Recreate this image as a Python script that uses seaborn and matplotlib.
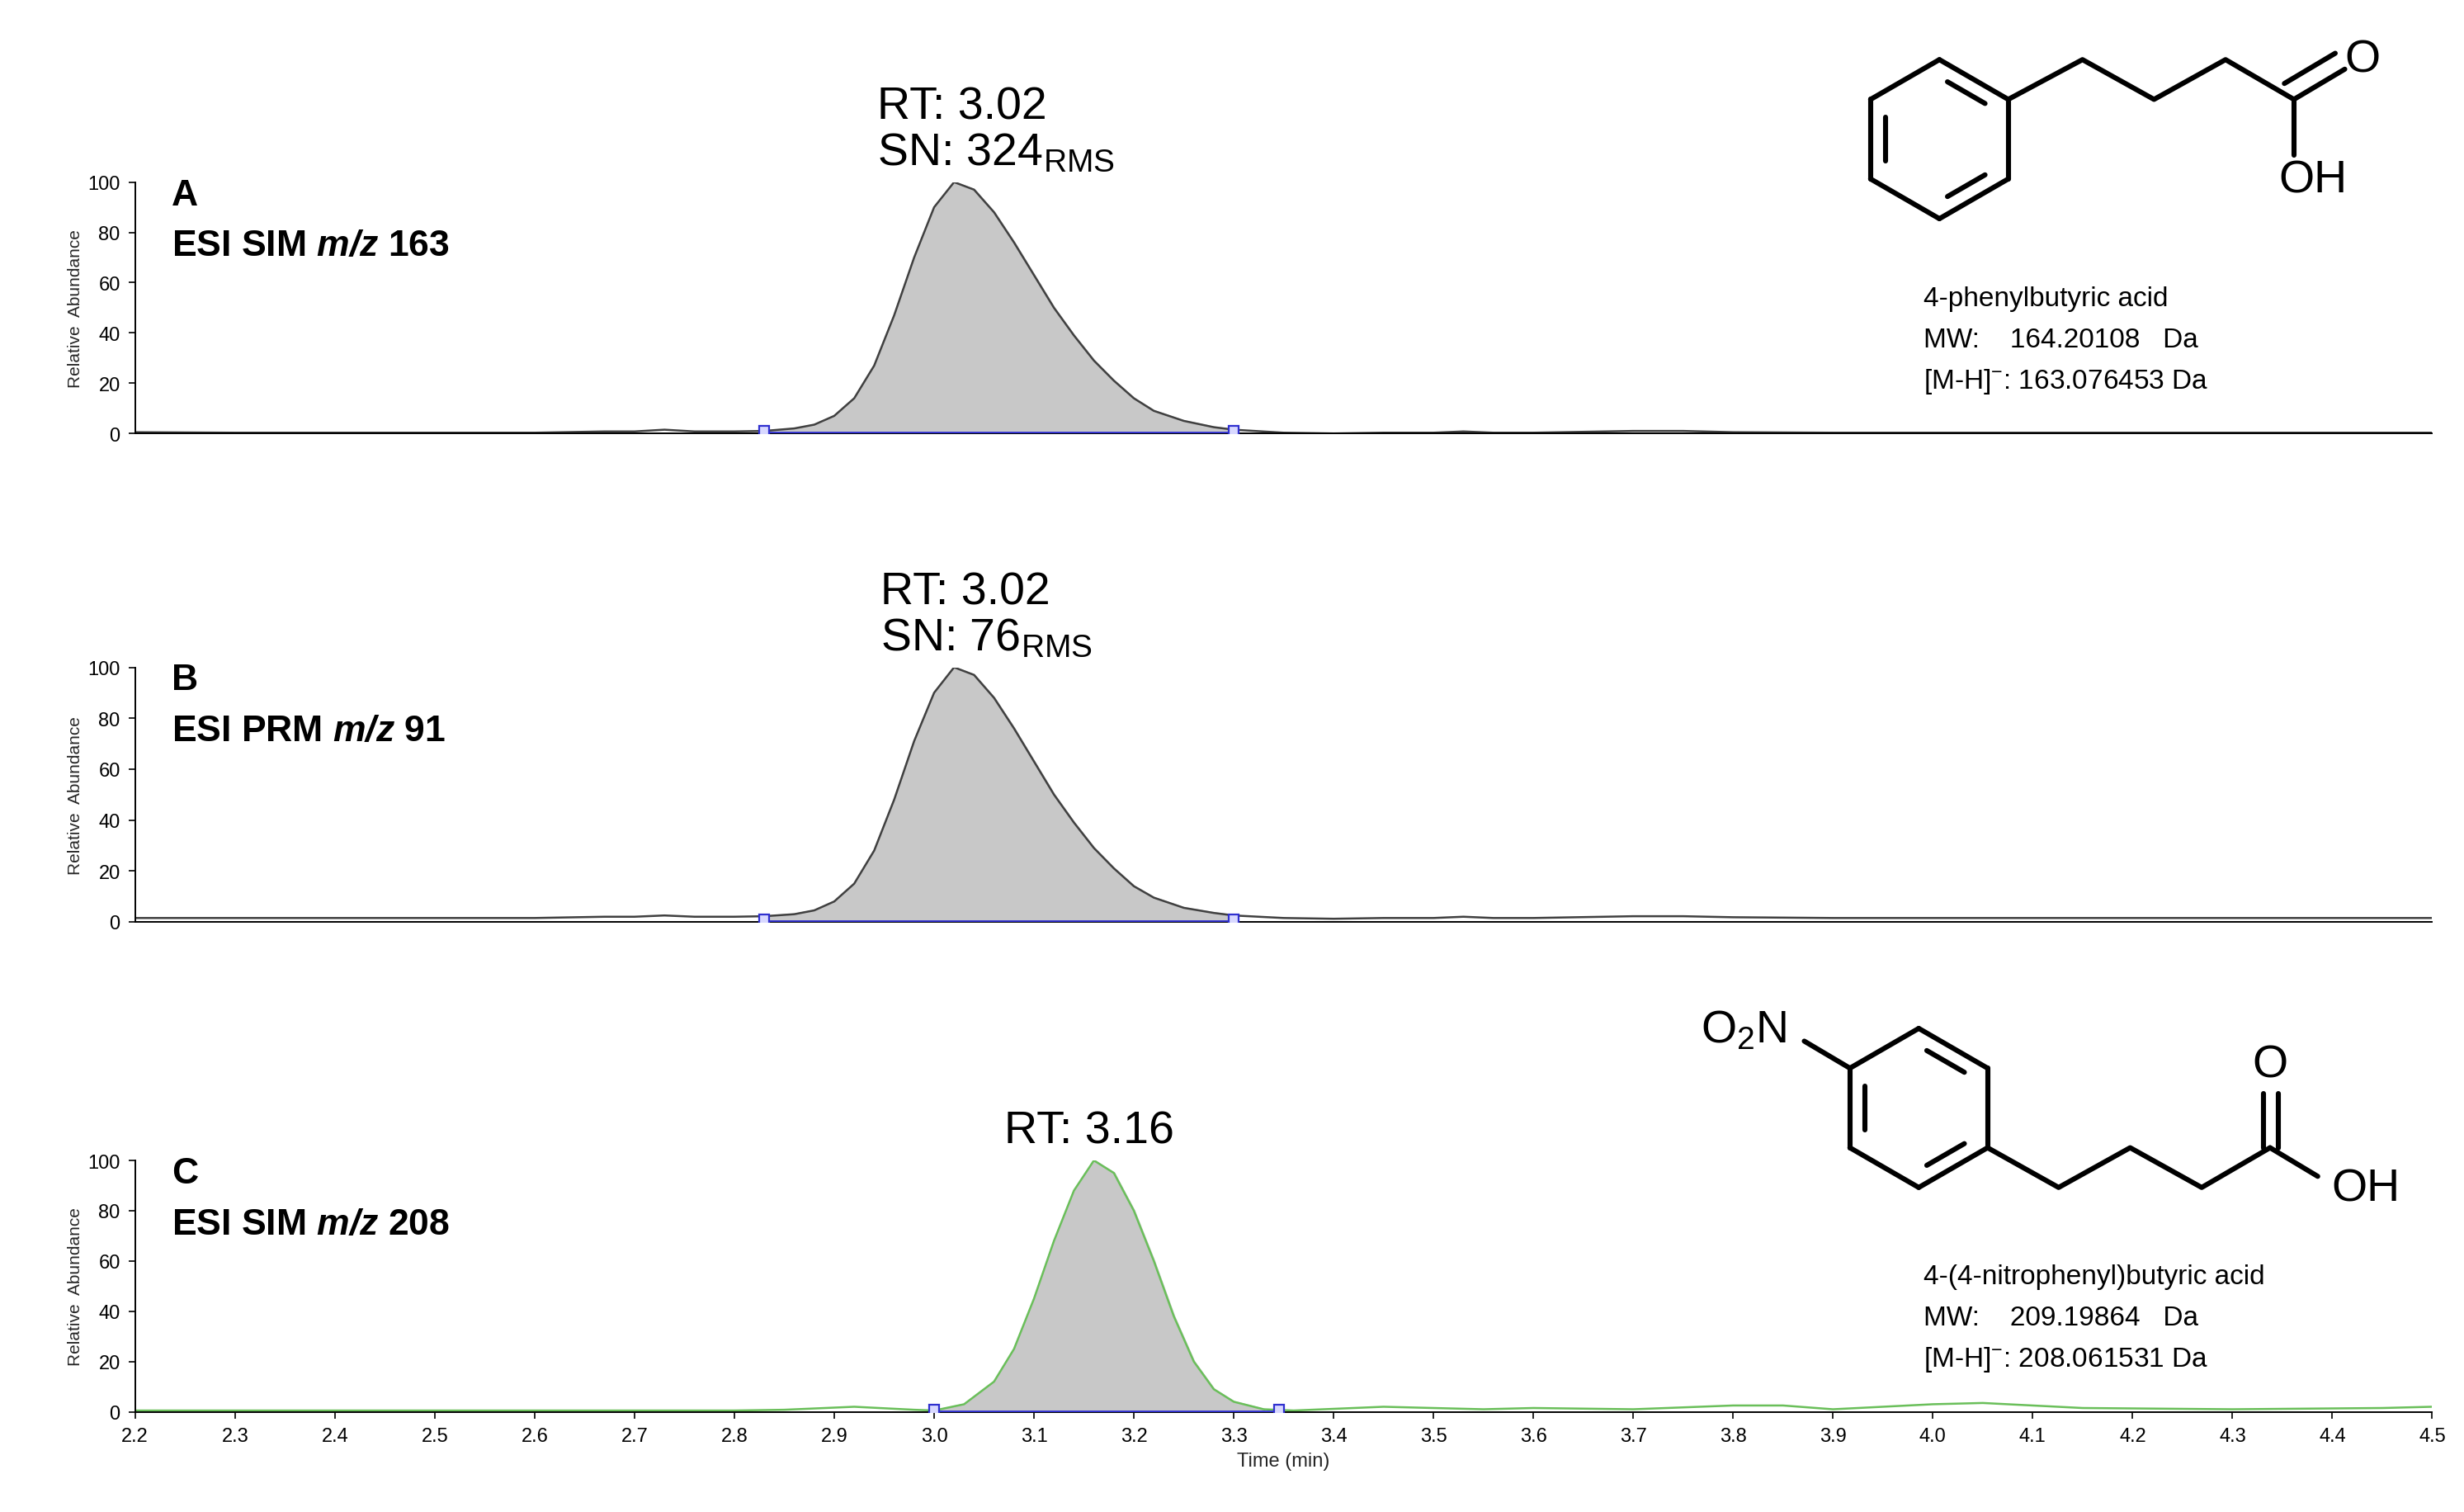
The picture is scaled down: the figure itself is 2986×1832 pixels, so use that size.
import numpy as np
import pandas as pd
import matplotlib
matplotlib.use("Agg")
import matplotlib.pyplot as plt
import seaborn as sns

sns.set_style("ticks")
plt.rcParams['font.family'] = ['Liberation Sans', 'DejaVu Sans']
plt.rcParams['text.color'] = 'black'
plt.rcParams['mathtext.fontset'] = 'custom'
plt.rcParams['mathtext.rm'] = 'Liberation Sans'
plt.rcParams['mathtext.it'] = 'Liberation Sans:italic'
plt.rcParams['mathtext.bf'] = 'Liberation Sans:bold'
try:
    plt.rcParams['mathtext.bfit'] = 'Liberation Sans:italic:bold'
    MZ = r"$\mathbfit{m/z}$"
except Exception:
    MZ = r"$\mathit{m/z}$"

# ---------------- data ----------------
times_A = [2.20,2.30,2.40,2.50,2.60,2.67,2.70,2.73,2.76,2.80,2.83,2.86,2.88,2.90,2.92,2.94,2.96,2.98,3.00,3.02,
           3.04,3.06,3.08,3.10,3.12,3.14,3.16,3.18,3.20,3.22,3.25,3.28,3.30,3.35,3.40,3.45,3.50,3.53,3.56,3.60,
           3.70,3.75,3.80,3.90,4.00,4.20,4.50]
int_A = [0.5,0.3,0.3,0.3,0.3,0.8,0.8,1.5,0.8,0.8,1.0,2.0,3.5,7,14,27,47,70,90,100,
         97,88,76,63,50,39,29,21,14,9,5,2.5,1.5,0.3,0.0,0.3,0.3,0.8,0.3,0.3,
         1.0,1.0,0.5,0.3,0.3,0.3,0.3]
times_B = times_A
int_B = [1.5,1.5,1.5,1.5,1.5,2.0,2.0,2.5,2.0,2.0,2.2,3.0,4.5,8,15,28,48,71,90,100,
         97,88,76,63,50,39,29,21,14,9.5,5.5,3.5,2.5,1.5,1.2,1.5,1.5,2.0,1.5,1.5,
         2.2,2.2,1.8,1.5,1.5,1.5,1.5]
times_C = [2.20,2.40,2.60,2.80,2.85,2.92,2.98,3.00,3.03,3.06,3.08,3.10,3.12,3.14,3.16,3.18,3.20,3.22,3.24,3.26,
           3.28,3.30,3.33,3.36,3.45,3.55,3.60,3.70,3.80,3.85,3.90,4.00,4.05,4.15,4.30,4.45,4.50]
int_C = [0.5,0.5,0.5,0.5,0.8,2.0,0.8,0.5,3,12,25,45,68,88,100,95,80,60,38,20,
         9,4,1,0.5,2.0,1.0,1.5,1.0,2.5,2.5,1.0,3.0,3.5,1.5,1.0,1.5,2.0]
bounds = {"A": (2.83, 3.30), "B": (2.83, 3.30), "C": (3.00, 3.345)}
panel_titles = {"A": "ESI SIM " + MZ + " 163", "B": "ESI PRM " + MZ + " 91", "C": "ESI SIM " + MZ + " 208"}
rt_labels = {"A": "RT: 3.02\nSN: 324$_{\\mathrm{RMS}}$", "B": "RT: 3.02\nSN: 76$_{\\mathrm{RMS}}$", "C": "RT: 3.16"}
xticks = [round(2.2 + 0.1 * i, 1) for i in range(24)]
yticks = [0, 20, 40, 60, 80, 100]

traces = {"A": (times_A, int_A, "#404040"), "B": (times_B, int_B, "#404040"), "C": (times_C, int_C, "#6abf5a")}

W, H = 1550, 951
fig = plt.figure(figsize=(14.93, 9.165), dpi=200)
panel_px = {"A": (115, 273), "B": (420, 580), "C": (730, 888)}
left, right = 85 / W, 1530 / W

for key in ["A", "B", "C"]:
    top, bot = panel_px[key]
    ax = fig.add_axes([left, 1 - bot / H, right - left, (bot - top) / H])
    t, y, col = traces[key]
    df = pd.DataFrame({"t": t, "y": y})
    lo, hi = bounds[key]
    m = (df.t >= lo) & (df.t <= hi)
    ax.fill_between(df.t[m], 0, df.y[m], color="#c8c8c8", zorder=1)
    sns.lineplot(data=df, x="t", y="y", color=col, lw=0.9, ax=ax, zorder=2)
    ax.plot([lo, hi], [0.3, 0.3], color="#3030d0", lw=1.0, zorder=3)
    ax.plot([lo, hi], [1.0, 1.0], ls="none", marker="s", ms=4.5, mfc="#d8d8ff", mec="#3030d0", mew=0.8, zorder=4)
    ax.set_xlim(2.2, 4.5)
    ax.set_ylim(0, 100)
    ax.set_yticks(yticks)
    ax.tick_params(axis="y", labelsize=8.5, length=3, width=0.6, colors="black")
    ax.set_ylabel("Relative  Abundance", fontsize=7.5, labelpad=2)
    sns.despine(ax=ax)
    for s in ["left", "bottom"]:
        ax.spines[s].set_linewidth(0.7)
        ax.spines[s].set_color("black")
    if key == "C":
        ax.set_xticks(xticks)
        ax.set_xticklabels([f"{v:.1f}" for v in xticks])
        ax.tick_params(axis="x", labelsize=8.5, length=3, width=0.6, colors="black")
        ax.set_xlabel("Time (min)", fontsize=8.5, labelpad=3)
    else:
        ax.set_xticks([])
        ax.set_xlabel("")
    ax.set_facecolor("none")
    rx = {"A": 2.943, "B": 2.946, "C": 3.07}[key]
    ax.text(rx, 103, rt_labels[key], fontsize=20, ha="left", va="bottom", linespacing=1.1, clip_on=False)
    fig.text(108 / W, 1 - (top + 8) / H, key, fontsize=16, fontweight="bold", va="center")
    fig.text(108 / W, 1 - (top + 40) / H, panel_titles[key], fontsize=16, fontweight="bold", va="center")

info = {"A": ("4-phenylbutyric acid", "164.20108", "163.076453", 188),
        "C": ("4-(4-nitrophenyl)butyric acid", "209.19864", "208.061531", 803)}
for k, (name, mw, mh, y0) in info.items():
    fig.text(1210 / W, 1 - y0 / H, name, fontsize=12, va="center")
    fig.text(1210 / W, 1 - (y0 + 26) / H, "MW:    " + mw + "   Da", fontsize=12, va="center")
    fig.text(1210 / W, 1 - (y0 + 52) / H, "[M-H]$^{-}$: " + mh + " Da", fontsize=12, va="center")

# ---- structure drawings (overlay in pixel coordinates) ----
ov = fig.add_axes([0, 0, 1, 1], facecolor="none")
ov.set_xlim(0, W); ov.set_ylim(H, 0); ov.axis("off")
lw = 2.2

def ring(cx, cy, r):
    ang = np.deg2rad([90, 30, -30, -90, -150, 150])
    pts = [(cx + r * np.cos(a), cy - r * np.sin(a)) for a in ang]
    for i in range(6):
        p, q = pts[i], pts[(i + 1) % 6]
        ov.plot([p[0], q[0]], [p[1], q[1]], color="k", lw=lw)
    for i in [0, 2, 4]:
        p, q = pts[i], pts[(i + 1) % 6]
        f = 0.78
        pi = (cx + f * (p[0] - cx), cy + f * (p[1] - cy))
        qi = (cx + f * (q[0] - cx), cy + f * (q[1] - cy))
        sh = 0.15
        a = (pi[0] + sh * (qi[0] - pi[0]), pi[1] + sh * (qi[1] - pi[1]))
        b = (qi[0] - sh * (qi[0] - pi[0]), qi[1] - sh * (qi[1] - pi[1]))
        ov.plot([a[0], b[0]], [a[1], b[1]], color="k", lw=lw)
    return pts

def poly(xs, ys):
    ov.plot(xs, ys, color="k", lw=lw, solid_capstyle="round")

# structure 1
p = ring(1220, 88, 50)
x0, y0 = p[1]
poly([x0, 1310, 1355, 1400, 1443], [y0, 38, 63, 38, 63])
poly([1443, 1443], [63, 98])
poly([1443, 1475], [63, 44]); poly([1437, 1469], [53, 34])
ov.text(1486, 38, "O", fontsize=20, ha="center", va="center")
ov.text(1455, 114, "OH", fontsize=20, ha="center", va="center")

# structure 2
p = ring(1207, 697, 50)
x1, y1 = p[2]
poly([x1, 1295, 1340, 1385, 1428], [y1, 747, 722, 747, 722])
poly([1428, 1458], [722, 740])
poly([1424, 1424], [722, 688]); poly([1433, 1433], [722, 688])
ov.text(1428, 670, "O", fontsize=20, ha="center", va="center")
ov.text(1488, 748, "OH", fontsize=20, ha="center", va="center")
x2, y2 = p[5]
poly([x2, 1135], [y2, 655])
ov.text(1097, 648, "O$_{2}$N", fontsize=20, ha="center", va="center")

fig.savefig("out.png", dpi=200, facecolor="white")
